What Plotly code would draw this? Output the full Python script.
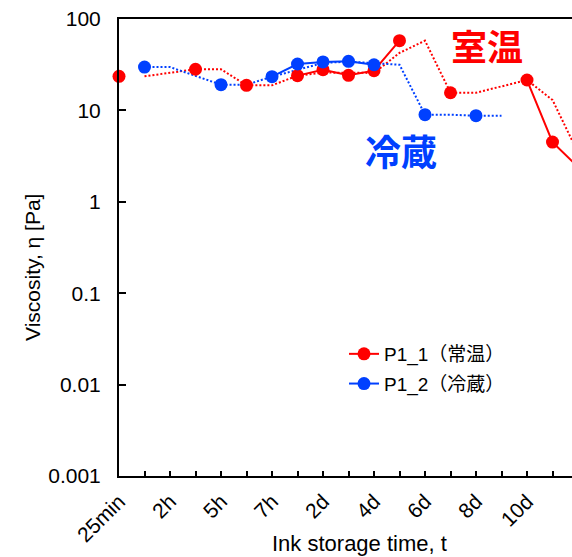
import plotly.graph_objects as go

# ---- data ----
categories = ["25min", "1h", "2h", "3h", "5h", "6h", "7h", "1d", "2d", "3d",
              "4d", "5d", "6d", "7d", "8d", "9d", "10d", "11d", "12d"]
tick_labels = ["25min", "", "2h", "", "5h", "", "7h", "", "2d", "",
               "4d", "", "6d", "", "8d", "", "10d", "", "12d"]
p1_1_room = [23.6, None, None, 28.2, None, 18.8, None, 24.0, 27.9, 24.2,
             27.2, 57.9, None, 15.6, None, None, 21.5, 4.5, 2.4]
p1_2_cold = [None, 29.8, None, None, 19.1, None, 23.4, 32.2, 33.9, 34.4,
             31.6, None, 8.97, None, 8.75, None, None, None, None]
y_tick_vals = [0.001, 0.01, 0.1, 1, 10, 100]
y_tick_text = ["0.001", "0.01", "0.1", "1", "10", "100"]

RED = "#FF0000"
BLUE = "#0040FF"
FONT = "Liberation Sans, Arial, Noto Sans CJK JP, sans-serif"
CJK = "Noto Sans CJK JP, sans-serif"

W, H = 572, 557
ML, MT, MB = 119, 19, 81


def moving_avg(vals, period=2):
    out = [None] * len(vals)
    for i in range(period - 1, len(vals)):
        w = [v for v in vals[i - period + 1:i + 1] if v is not None]
        out[i] = sum(w) / len(w) if w else None
    return out


def px_x(px):
    return (px - ML) / (W - ML)


def px_y(py):
    return (H - MB - py) / (H - MT - MB)


fig = go.Figure()

# moving-average trendlines (dotted)
fig.add_trace(go.Scatter(x=categories, y=moving_avg(p1_1_room), mode="lines",
                         line=dict(color=RED, width=2, dash="2px,2px"),
                         connectgaps=True, showlegend=False, hoverinfo="skip"))
fig.add_trace(go.Scatter(x=categories, y=moving_avg(p1_2_cold), mode="lines",
                         line=dict(color=BLUE, width=2, dash="2px,2px"),
                         connectgaps=True, showlegend=False, hoverinfo="skip"))

# data series
fig.add_trace(go.Scatter(x=categories, y=p1_1_room, mode="lines+markers",
                         name="P1_1（常温）", legendgroup="a",
                         line=dict(color=RED, width=2),
                         marker=dict(color=RED, size=13),
                         connectgaps=False, cliponaxis=False))
fig.add_trace(go.Scatter(x=categories, y=p1_2_cold, mode="lines+markers",
                         name="P1_2（冷蔵）", legendgroup="b",
                         line=dict(color=BLUE, width=2),
                         marker=dict(color=BLUE, size=13),
                         connectgaps=False, cliponaxis=False))

fig.update_layout(
    width=W, height=H,
    margin=dict(l=ML, r=0, t=MT, b=MB, pad=0),
    paper_bgcolor="white", plot_bgcolor="white",
    font=dict(family=FONT, size=21, color="black"),
    showlegend=True,
    legend=dict(x=px_x(344), y=px_y(335), xanchor="left", yanchor="top",
                font=dict(family=FONT, size=19, color="black"),
                bgcolor="rgba(0,0,0,0)", traceorder="grouped",
                tracegroupgap=2),
)

fig.update_xaxes(type="category", categoryorder="array", categoryarray=categories,
                 range=[0, (W - ML) / 25.5],
                 tickmode="array", tickvals=categories, ticktext=tick_labels,
                 tickangle=-45, ticks="inside", ticklen=5, tickwidth=1.5,
                 tickcolor="black", showline=True, linecolor="black", linewidth=2,
                 mirror=True, showgrid=False, zeroline=False,
                 tickfont=dict(family=FONT, size=21), ticklabelstandoff=3)
fig.update_yaxes(type="log", range=[-3, 2],
                 tickmode="array", tickvals=y_tick_vals, ticktext=y_tick_text,
                 ticks="inside", ticklen=7, tickwidth=1.5, tickcolor="black",
                 showline=True, linecolor="black", linewidth=2,
                 showgrid=False, zeroline=False,
                 tickfont=dict(family=FONT, size=21), ticklabelstandoff=12)

# annotations
ann = dict(xref="paper", yref="paper", showarrow=False,
           xanchor="center", yanchor="middle")
fig.add_annotation(text="<b>室温</b>", x=px_x(487), y=px_y(45),
                   font=dict(family=CJK, size=36, color=RED), **ann)
fig.add_annotation(text="<b>冷蔵</b>", x=px_x(401), y=px_y(150),
                   font=dict(family=CJK, size=36, color=BLUE), **ann)
fig.add_annotation(text="Ink storage time, t", x=px_x(359), y=px_y(543),
                   font=dict(family=FONT, size=22, color="black"), **ann)
fig.add_annotation(text="Viscosity, η [Pa]", x=px_x(32), y=px_y(268),
                   textangle=-90,
                   font=dict(family=FONT, size=21, color="black"), **ann)

fig.write_html("out.html")
